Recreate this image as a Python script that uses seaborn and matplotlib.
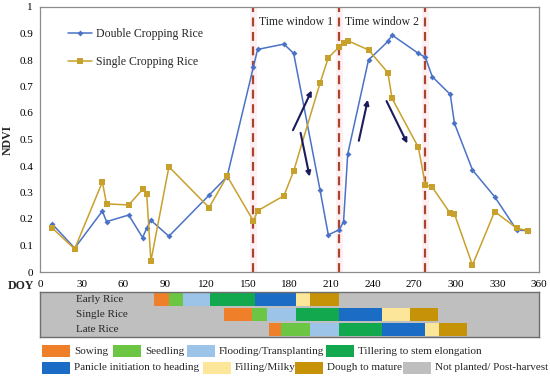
import numpy as np
import pandas as pd
import matplotlib
matplotlib.use("Agg")
import matplotlib.pyplot as plt
import seaborn as sns
from matplotlib.patches import Rectangle
from matplotlib.ticker import FuncFormatter

# NDVI time series (day of year)
doy = [9, 25, 45, 48, 64, 74, 77, 80, 93, 122, 135, 154, 157, 176, 183, 202,
       208, 216, 219, 222, 237, 251, 254, 273, 278, 283, 296, 299, 312, 328, 344, 352]
double_ndvi = [0.18, 0.09, 0.23, 0.19, 0.215, 0.13, 0.165, 0.195, 0.135, 0.29, 0.36,
               0.775, 0.84, 0.86, 0.825, 0.31, 0.14, 0.16, 0.19, 0.445, 0.80, 0.87,
               0.894, 0.825, 0.81, 0.737, 0.67, 0.561, 0.385, 0.284, 0.158, 0.156]
single_ndvi = [0.165, 0.087, 0.34, 0.257, 0.253, 0.312, 0.294, 0.041, 0.397, 0.243, 0.362,
               0.192, 0.231, 0.288, 0.381, 0.712, 0.809, 0.85, 0.863, 0.873, 0.838, 0.752,
               0.655, 0.47, 0.328, 0.32, 0.221, 0.219, 0.026, 0.228, 0.165, 0.156]
series_names = ["Double Cropping Rice", "Single Cropping Rice"]

window_lines = [154, 216, 278]
window_labels = ["Time window 1", "Time window 2"]
# arrows: (x0, y0, x1, y1) in data units
arrows = [(182.5, 0.535, 196, 0.685), (188, 0.525, 194.5, 0.36),
          (230, 0.495, 236.5, 0.65), (250, 0.645, 265, 0.485)]

# phenology calendar: stage boundaries per rice type
rows = ["Early Rice", "Single Rice", "Late Rice"]
stage_bounds = {
    "Early Rice": [82, 93, 103, 123, 155, 185, 195, 216],
    "Single Rice": [133, 153, 164, 185, 216, 247, 267, 287],
    "Late Rice": [165, 174, 195, 216, 247, 278, 288, 308],
}
stages = ["Sowing", "Seedling", "Flooding/Transplanting", "Tillering to stem elongation",
          "Panicle initiation to heading", "Filling/Milky", "Dough to mature",
          "Not planted/ Post-harvest"]
stage_colors = ["#F07F2A", "#6CC644", "#9CC4E8", "#12A84E",
                "#1A6CC4", "#FCE69A", "#C69208", "#BFBFBF"]

sns.set_style("white")
plt.rcParams["font.family"] = ["Liberation Serif", "DejaVu Serif"]
plt.rcParams["font.size"] = 8

fig = plt.figure(figsize=(5.5, 3.81), dpi=100)
ax = fig.add_axes([40 / 550, 1 - 272 / 381, 499 / 550, 265 / 381])

df = pd.DataFrame({"DOY": doy * 2,
                   "NDVI": double_ndvi + single_ndvi,
                   "type": [series_names[0]] * len(doy) + [series_names[1]] * len(doy)})

sns.lineplot(data=df[df["type"] == series_names[0]], x="DOY", y="NDVI", sort=False,
             color="#4A72C6", marker="D", markersize=3, markeredgewidth=0, lw=1.1,
             label=series_names[0], ax=ax)
sns.lineplot(data=df[df["type"] == series_names[1]], x="DOY", y="NDVI", sort=False,
             color="#C8A02C", marker="s", markersize=4.5, markeredgewidth=0, lw=1.1,
             label=series_names[1], ax=ax)

for d in window_lines:
    ax.axvspan(d - 2.5, d + 2.5, color="#FDEFF2", zorder=0, lw=0)
    ax.axvline(d, color="#A8452E", ls=(0, (4, 2.5)), lw=1.6, zorder=1)
for i, lab in enumerate(window_labels):
    ax.text(window_lines[i] + 4, 0.945, lab, fontsize=8.5, va="center", ha="left")

for x0, y0, x1, y1 in arrows:
    ax.annotate("", xy=(x1, y1), xytext=(x0, y0),
                arrowprops=dict(arrowstyle="-|>", color="#1C1C5C", lw=1.5,
                                mutation_scale=7, shrinkA=0, shrinkB=0))

ax.set_xlim(0, 360)
ax.set_ylim(0, 1)
ax.set_xticks(np.arange(0, 361, 30))
ax.set_yticks(np.arange(0, 1.01, 0.1))
ax.yaxis.set_major_formatter(FuncFormatter(lambda v, p: "%g" % round(v, 1)))
ax.tick_params(axis="x", direction="in", length=3, colors="#808080", labelcolor="black",
               labelsize=8, pad=6)
ax.tick_params(axis="y", direction="out", length=3, colors="#808080", labelcolor="black",
               labelsize=8, pad=2)
for s in ax.spines.values():
    s.set_color("#8C8C8C")
    s.set_linewidth(0.9)
ax.set_xlabel("")
ax.set_ylabel("NDVI", fontweight="bold", fontsize=8.5, labelpad=4)
ax.legend(loc="upper left", bbox_to_anchor=(0.035, 0.96), frameon=False, fontsize=8.5,
          labelspacing=1.35, handlelength=2.0, handletextpad=0.4)
fig.text(8 / 550, 1 - 286 / 381, "DOY", fontweight="bold", fontsize=8.5, va="center")

# phenology calendar
ax2 = fig.add_axes([40 / 550, 1 - 337 / 381, 499 / 550, 45 / 381])
ax2.set_facecolor("#BFBFBF")
for r, name in enumerate(rows):
    b = stage_bounds[name]
    ax2.barh([r] * 7, np.diff(b), left=b[:-1], color=stage_colors[:7], height=0.93, lw=0)
    ax2.text(26, r, name, fontsize=8, va="center", ha="left")
ax2.set_xlim(0, 360)
ax2.set_ylim(2.5, -0.5)
ax2.set_xticks([])
ax2.set_yticks([])
for s in ax2.spines.values():
    s.set_color("#6E6E6E")
    s.set_linewidth(1.0)

# bottom legend, two rows
legend_pos = [(42, 351), (113, 351), (187, 351), (326, 351),
              (42, 368), (203, 368), (295, 368), (403, 368)]
for (px, py), lab, col in zip(legend_pos, stages, stage_colors):
    fig.patches.append(Rectangle((px / 550, 1 - (py + 6) / 381), 28 / 550, 12 / 381,
                                 transform=fig.transFigure, color=col, lw=0))
    fig.text((px + 32) / 550, 1 - py / 381, lab, fontsize=8, va="center", ha="left")

fig.savefig("out.png", dpi=100)
